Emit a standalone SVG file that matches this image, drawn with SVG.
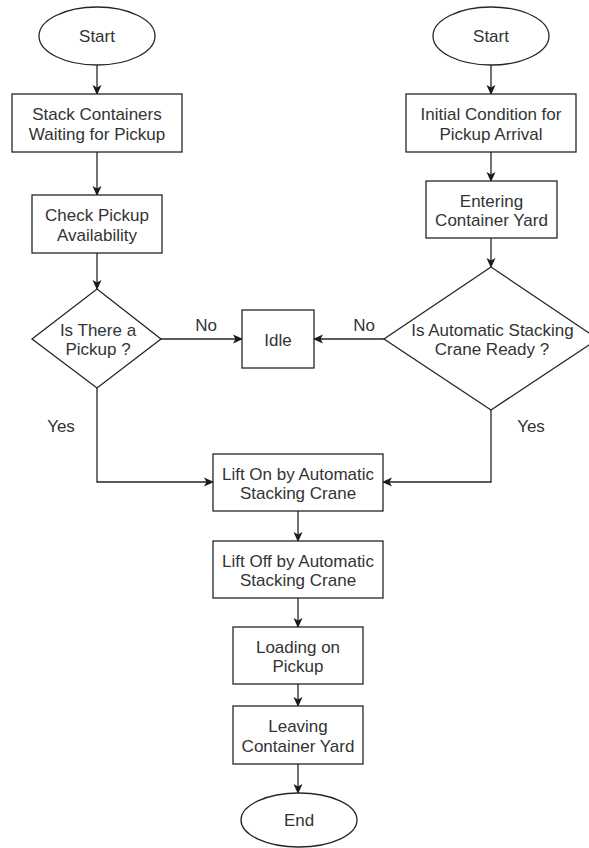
<svg xmlns="http://www.w3.org/2000/svg" width="589" height="848" viewBox="0 0 589 848">
<defs>
<marker id="arr" markerWidth="10" markerHeight="10" viewBox="0 0 10 10" refX="9" refY="5" orient="auto" markerUnits="userSpaceOnUse">
<path d="M0,0.5 L10,5 L0,9.5 L2.5,5 Z" fill="#1a1a1a"/>
</marker>
<style>
.s{fill:#fff;stroke:#262626;stroke-width:1.3}
.t{font-family:"Liberation Sans",Arial,Helvetica,sans-serif;font-size:17px;fill:#333;text-anchor:middle}
.c{fill:none;stroke:#262626;stroke-width:1.3;marker-end:url(#arr)}
</style>
</defs>
<rect width="589" height="848" fill="#fff"/>
<g id="connectors">
<path class="c" d="M97,65 V94"/>
<path class="c" d="M97,152 V195"/>
<path class="c" d="M97,253 V289"/>
<path class="c" d="M161,339 H242"/>
<path class="c" d="M384,339 H314"/>
<path class="c" d="M97,388 V482 H213"/>
<path class="c" d="M491,410 V482 H383"/>
<path class="c" d="M491,65 V94"/>
<path class="c" d="M491,152 V181"/>
<path class="c" d="M491,238 V267"/>
<path class="c" d="M298,511 V541"/>
<path class="c" d="M298,598 V627"/>
<path class="c" d="M298,684 V706"/>
<path class="c" d="M298,764 V793"/>
</g>
<g id="labels">
<text class="t" x="206" y="331">No</text>
<text class="t" x="364" y="331">No</text>
<text class="t" x="61" y="432">Yes</text>
<text class="t" x="531" y="432">Yes</text>
</g>
<g id="start1"><ellipse class="s" cx="97" cy="36" rx="58" ry="29"/><text class="t" x="97" y="42">Start</text></g>
<g id="stack"><rect class="s" x="12" y="94" width="170" height="58"/><text class="t" x="97" y="120">Stack Containers</text><text class="t" x="97" y="139.5">Waiting for Pickup</text></g>
<g id="check"><rect class="s" x="32" y="195" width="130" height="58"/><text class="t" x="97" y="221">Check Pickup</text><text class="t" x="97" y="240.5">Availability</text></g>
<g id="dec1"><polygon class="s" points="97,289 161,339 97,388 32,339"/><text class="t" x="98" y="335.5">Is There a</text><text class="t" x="98" y="355">Pickup ?</text></g>
<g id="idle"><rect class="s" x="242" y="310" width="72" height="58"/><text class="t" x="278" y="345.5">Idle</text></g>
<g id="start2"><ellipse class="s" cx="491" cy="36" rx="58" ry="29"/><text class="t" x="491" y="42">Start</text></g>
<g id="initial"><rect class="s" x="406" y="94" width="170" height="58"/><text class="t" x="491" y="120">Initial Condition for</text><text class="t" x="491" y="139.5">Pickup Arrival</text></g>
<g id="entering"><rect class="s" x="426" y="181" width="131" height="57"/><text class="t" x="491.5" y="206.5">Entering</text><text class="t" x="491.5" y="226">Container Yard</text></g>
<g id="dec2"><polygon class="s" points="491,267 598,339 491,410 384,339"/><text class="t" x="492.5" y="335.5">Is Automatic Stacking</text><text class="t" x="492" y="355">Crane Ready ?</text></g>
<g id="lifton"><rect class="s" x="213" y="454" width="170" height="57"/><text class="t" x="298" y="479.5">Lift On by Automatic</text><text class="t" x="298" y="499">Stacking Crane</text></g>
<g id="liftoff"><rect class="s" x="213" y="541" width="170" height="57"/><text class="t" x="298" y="566.5">Lift Off by Automatic</text><text class="t" x="298" y="586">Stacking Crane</text></g>
<g id="loading"><rect class="s" x="233" y="627" width="130" height="57"/><text class="t" x="298" y="652.5">Loading on</text><text class="t" x="298" y="672">Pickup</text></g>
<g id="leaving"><rect class="s" x="233" y="706" width="130" height="58"/><text class="t" x="298" y="732">Leaving</text><text class="t" x="298" y="751.5">Container Yard</text></g>
<g id="end"><ellipse class="s" cx="299" cy="820" rx="58" ry="27"/><text class="t" x="299" y="826">End</text></g>
</svg>
